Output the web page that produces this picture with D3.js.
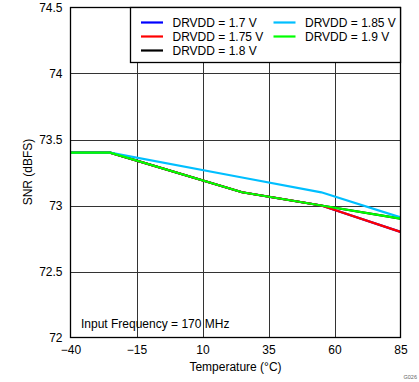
<!DOCTYPE html>
<html><head><meta charset="utf-8">
<script src="https://cdn.jsdelivr.net/npm/d3@7"></script>
<style>body{margin:0;background:#fff}svg{display:block}text{font-family:"Liberation Sans",Arial,sans-serif}</style>
</head><body><svg id="c" width="419" height="382"></svg>
<script>
const xTicks = [-40, -15, 10, 35, 60, 85];
const yTicks = [72, 72.5, 73, 73.5, 74, 74.5];
const yTickLabels = ["72", "72.5", "73", "73.5", "74", "74.5"];
const seriesNames = ["DRVDD = 1.7 V", "DRVDD = 1.75 V", "DRVDD = 1.8 V", "DRVDD = 1.85 V", "DRVDD = 1.9 V"];
const seriesColors = ["#0000ff", "#ff0000", "#000000", "#00bfff", "#00ff00"];
const temps = [-40, -25, 25, 55, 85];
const snr17  = [73.4, 73.4, 73.1, 73.0, 72.8];
const snr175 = [73.4, 73.4, 73.1, 73.0, 72.8];
const snr18  = [73.4, 73.4, 73.1, 73.0, 72.9];
const snr185 = [73.4, 73.4, 73.212, 73.1, 72.91];
const snr19  = [73.4, 73.4, 73.1, 73.0, 72.9];
const seriesValues = [snr17, snr175, snr18, snr185, snr19];
const drawOrder = [0, 2, 1, 3, 4];

const svg = d3.select("#c");
const L = 70.5, R = 400.5, T = 7.5, B = 337.5;
const x = d3.scaleLinear().domain([-40, 85]).range([L, R]);
const y = d3.scaleLinear().domain([72, 74.5]).range([B, T]);

// grid
const g = svg.append("g");
g.selectAll(".vx").data(xTicks.slice(1, -1)).enter().append("line")
  .attr("x1", d => Math.round(x(d)) + 0.5).attr("x2", d => Math.round(x(d)) + 0.5)
  .attr("y1", T).attr("y2", B).attr("stroke", "#333").attr("stroke-width", 1);
g.selectAll(".hy").data(yTicks.slice(1, -1)).enter().append("line")
  .attr("y1", d => Math.round(y(d)) + 0.5).attr("y2", d => Math.round(y(d)) + 0.5)
  .attr("x1", L).attr("x2", R).attr("stroke", "#333").attr("stroke-width", 1);

// lines
const line = d3.line().x((d, i) => x(temps[i])).y(d => y(d));
drawOrder.forEach(k => {
  svg.append("path").datum(seriesValues[k]).attr("d", line)
    .attr("fill", "none").attr("stroke", seriesColors[k]).attr("stroke-width", 2.2);
});

// border
svg.append("rect").attr("x", L).attr("y", T).attr("width", R - L).attr("height", B - T)
  .attr("fill", "none").attr("stroke", "#000").attr("stroke-width", 1.3);

// axes labels
const xAxis = d3.axisBottom(x).tickValues(xTicks).tickSize(0).tickPadding(0);
const xa = svg.append("g").attr("transform", `translate(0,${B})`).call(xAxis);
xa.select(".domain").remove();
xa.selectAll("text").attr("font-size", 12).attr("fill", "#000").attr("dy", null).attr("y", 16)
  .attr("font-family", '"Liberation Sans",Arial,sans-serif');
const yAxis = d3.axisLeft(y).tickValues(yTicks).tickFormat((d, i) => yTickLabels[i]).tickSize(0).tickPadding(0);
const ya = svg.append("g").attr("transform", `translate(${L - 8},0)`).call(yAxis);
ya.select(".domain").remove();
ya.selectAll("text").attr("font-size", 12).attr("fill", "#000").attr("dy", "0.32em")
  .attr("font-family", '"Liberation Sans",Arial,sans-serif');

svg.append("text").attr("x", (L + R) / 2).attr("y", 371).attr("text-anchor", "middle")
  .attr("font-size", 12).text("Temperature (°C)");
svg.append("text").attr("transform", "translate(32,172) rotate(-90)").attr("text-anchor", "middle")
  .attr("font-size", 12).text("SNR (dBFS)");
svg.append("text").attr("x", 81).attr("y", 328).attr("font-size", 12).text("Input Frequency = 170 MHz");
svg.append("text").attr("x", 417).attr("y", 379).attr("text-anchor", "end")
  .attr("font-size", 5.5).attr("fill", "#666").text("G026");

// legend
const lg = svg.append("g");
lg.append("rect").attr("x", 130.5).attr("y", T).attr("width", R - 130.5).attr("height", 55)
  .attr("fill", "#fff").attr("stroke", "#000").attr("stroke-width", 1.3);
const legPos = [[0, 0], [0, 1], [0, 2], [1, 0], [1, 1]];
seriesNames.forEach((n, i) => {
  const [c, r] = legPos[i];
  const lx = c === 0 ? 141 : 273.5;
  const ly = 22.5 + r * 14;
  lg.append("line").attr("x1", lx).attr("x2", lx + 22).attr("y1", ly).attr("y2", ly)
    .attr("stroke", seriesColors[i]).attr("stroke-width", 2.2);
  lg.append("text").attr("x", lx + 31.5).attr("y", ly).attr("dy", "0.35em")
    .attr("font-size", 12).text(n);
});
</script></body></html>
